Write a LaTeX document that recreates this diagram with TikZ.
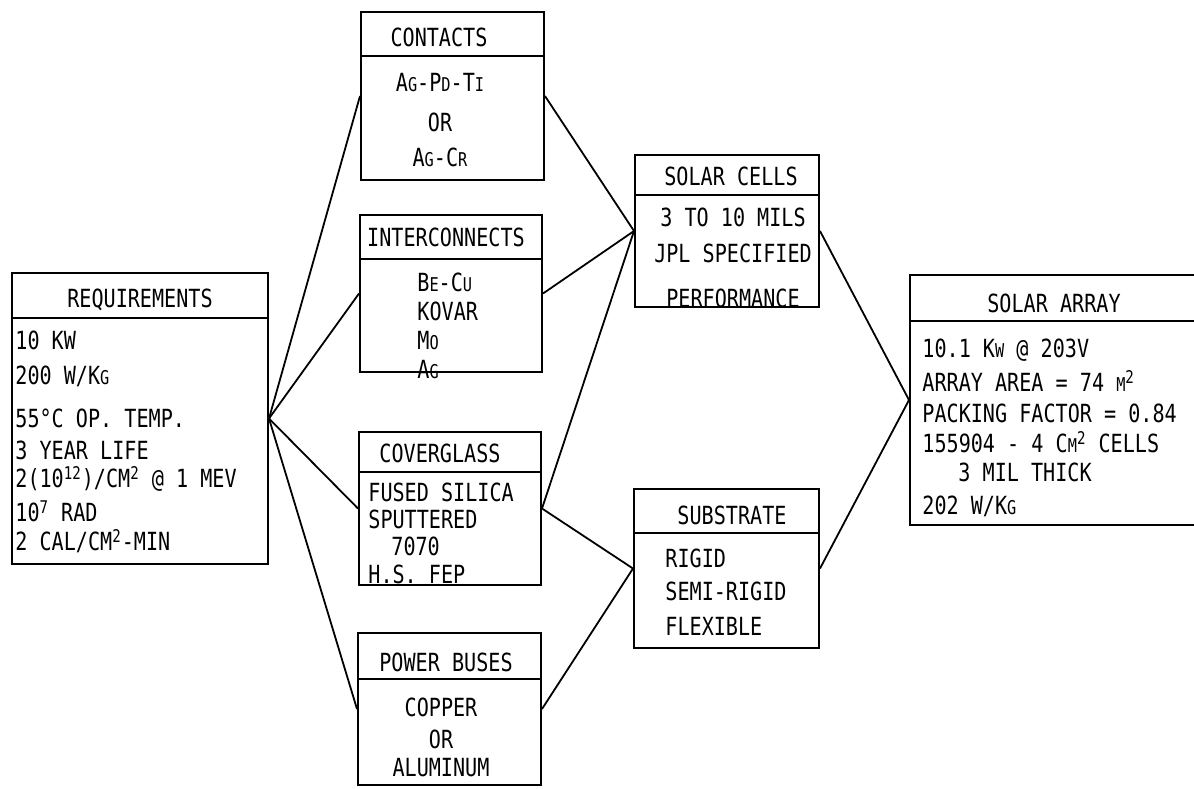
\documentclass[tikz,border=0pt]{standalone}
\usepackage{fontspec}
\setmainfont[FakeStretch=0.805]{DejaVu Sans Mono}
\usetikzlibrary{positioning,calc}

% small capitals of the typed labels
\newcommand{\sm}[1]{{\fontsize{9.5}{9.5}\selectfont #1}}

\begin{document}
\begin{tikzpicture}[
  x=0.5pt, y=-0.5pt,
  font=\fontsize{12.5}{14}\selectfont,
  frame/.style={draw, line width=1pt, inner sep=0pt},
  title/.style={inner sep=0pt, text height=9.1pt, text depth=0pt},
  bodyleft/.style={inner sep=0pt, anchor=north west, align=left, font=\fontsize{12.5}{#1}\selectfont},
  bodymid/.style={inner sep=0pt, anchor=north, align=center, font=\fontsize{12.5}{#1}\selectfont},
  rule/.style={line width=1pt},
  link/.style={line width=0.9pt}
]
\useasboundingbox (0,0) rectangle (1194,788);

% boxes
\node[frame, minimum width=128pt, minimum height=145.5pt] (req) at (140,418.5) {};
\node[frame, minimum width=91.5pt, minimum height=84pt] (contacts) at (452.5,96) {};
\node[frame, minimum width=91pt, minimum height=78.5pt] (inter) at (451,293.5) {};
\node[frame, minimum width=91pt, minimum height=76.5pt] (cover) at (450,508.5) {};
\node[frame, minimum width=91.5pt, minimum height=76pt] (power) at (449.5,709) {};
\node[frame, minimum width=92pt, minimum height=76pt] (cells) at (727,231) {};
\node[frame, minimum width=92.5pt, minimum height=79.5pt] (subst) at (726.5,568.5) {};
\node[frame, minimum width=143.5pt, minimum height=125pt] (array) at (1053.5,400) {};

% header rules
\draw[rule] ([yshift=-23pt]req.north west) -- ([yshift=-23pt]req.north east);
\draw[rule] ([yshift=-22.5pt]contacts.north west) -- ([yshift=-22.5pt]contacts.north east);
\draw[rule] ([yshift=-22.5pt]inter.north west) -- ([yshift=-22.5pt]inter.north east);
\draw[rule] ([yshift=-20.5pt]cover.north west) -- ([yshift=-20.5pt]cover.north east);
\draw[rule] ([yshift=-23.5pt]power.north west) -- ([yshift=-23.5pt]power.north east);
\draw[rule] ([yshift=-20.5pt]cells.north west) -- ([yshift=-20.5pt]cells.north east);
\draw[rule] ([yshift=-22.5pt]subst.north west) -- ([yshift=-22.5pt]subst.north east);
\draw[rule] ([yshift=-23.5pt]array.north west) -- ([yshift=-23.5pt]array.north east);

% titles
\node[title] (reqT) at (140,298) {REQUIREMENTS};
\node[title] (contactsT) at (439,37) {CONTACTS};
\node[title] (interT) at (446,237) {INTERCONNECTS};
\node[title] (coverT) at (440,453) {COVERGLASS};
\node[title] (powerT) at (446,662) {POWER BUSES};
\node[title] (cellsT) at (731,176) {SOLAR CELLS};
\node[title] (substT) at (732,515) {SUBSTRATE};
\node[title] (arrayT) at (1054,303) {SOLAR ARRAY};

% contents
\node[bodyleft=17pt] (reqB) at (15,331) {10 KW\\[0.5pt]
  200 W/K\sm{G}\\[4.5pt]
  55°C OP. TEMP.\\[-1pt]
  3 YEAR LIFE\\[-3pt]
  2(10\textsuperscript{12})/CM\textsuperscript{2} @ 1 MEV\\[0pt]
  10\textsuperscript{7} RAD\\[-2.5pt]
  2 CAL/CM\textsuperscript{2}-MIN};
\node[bodymid=20pt] (contactsB) at (440,73) {A\sm{G}-P\sm{D}-T\sm{I}\\
  OR\\[-2.5pt]
  A\sm{G}-C\sm{R}};
\node[bodyleft=14.5pt] (interB) at (417,273) {B\sm{E}-C\sm{U}\\
  KOVAR\\
  M\sm{O}\\
  A\sm{G}};
\node[bodyleft=13.3pt] (coverB) at (368,483) {FUSED SILICA\\
  SPUTTERED\\
  \hspace*{11.5pt}7070\\[1pt]
  H.S. FEP};
\node[bodymid=16pt] (powerB) at (441,698) {COPPER\\
  OR\\[-2pt]
  ALUMINUM};
\node[bodymid=22.5pt] (cellsB) at (733,208) {3 TO 10 MILS\\[-4.5pt]
  JPL SPECIFIED\\
  PERFORMANCE};
\node[bodyleft=16.5pt] (substB) at (665,549) {RIGID\\
  SEMI-RIGID\\[1pt]
  FLEXIBLE};
\node[bodyleft=15.5pt] (arrayB) at (922,339) {10.1 K\sm{W} @ 203V\\[1.5pt]
  ARRAY AREA = 74 \sm{M}\textsuperscript{2}\\
  PACKING FACTOR = 0.84\\[-0.5pt]
  155904 - 4 C\sm{M}\textsuperscript{2} CELLS\\[-1pt]
  \hspace*{18pt}3 MIL THICK\\[1pt]
  202 W/K\sm{G}};

% connections
\draw[link] (req.east) -- (contacts.west);
\draw[link] (req.east) -- (inter.west);
\draw[link] (req.east) -- (cover.west);
\draw[link] (req.east) -- (power.west);
\draw[link] (contacts.east) -- (cells.west);
\draw[link] (inter.east) -- (cells.west);
\draw[link] (cover.east) -- (cells.west);
\draw[link] (cover.east) -- (subst.west);
\draw[link] (power.east) -- (subst.west);
\draw[link] (cells.east) -- (array.west);
\draw[link] (subst.east) -- (array.west);
\end{tikzpicture}
\end{document}
